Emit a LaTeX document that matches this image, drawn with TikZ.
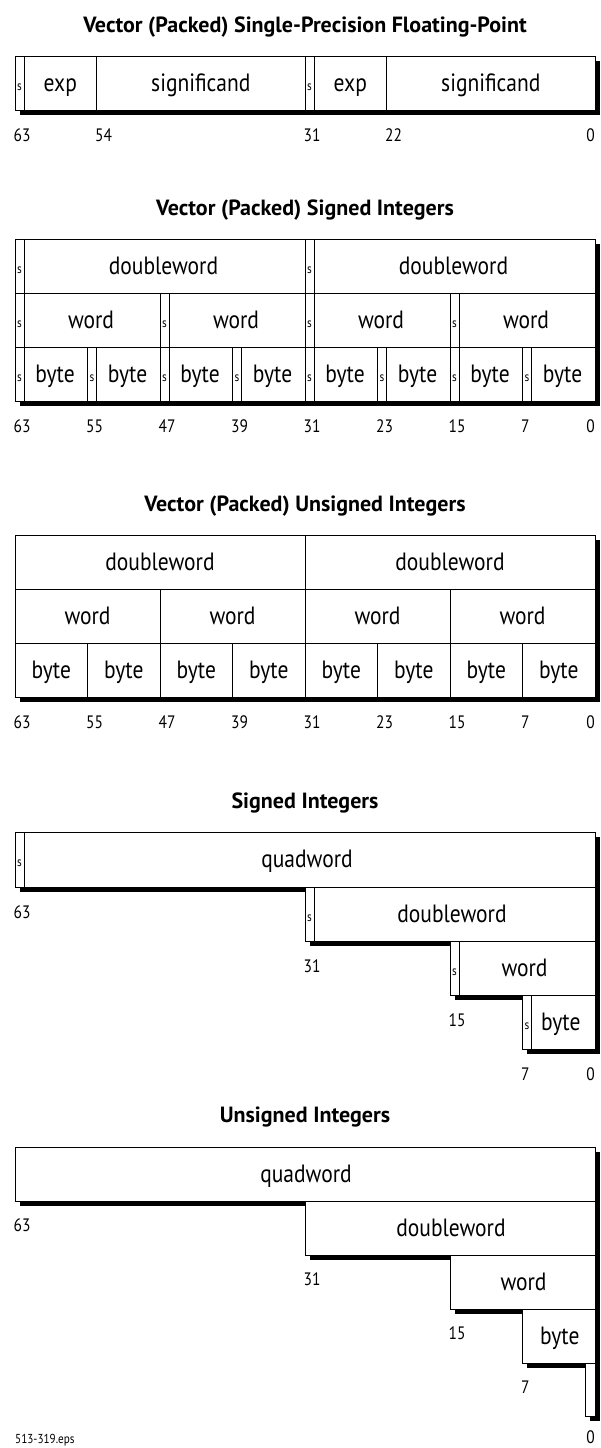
\documentclass[tikz,border=0pt]{standalone}
\usepackage{fontspec}
\setmainfont{PT Sans}[FakeStretch=0.86]
\newfontfamily\ttlfont{PT Sans}[FakeStretch=1.0]
\tikzset{
  cell/.style={draw=black, line width=0.9pt, fill=white},
  shadowc/.style={fill=black},
  ctext/.style={font=\fontsize{25}{30}\selectfont, inner sep=0pt, anchor=base},
  stext/.style={font=\fontsize{13}{15}\selectfont, inner sep=0pt, anchor=base},
  num/.style={font=\fontsize{18}{21}\selectfont, inner sep=0pt},
  ttl/.style={font=\ttlfont\bfseries\fontsize{22}{26}\selectfont, inner sep=0pt, anchor=base},
  eps/.style={font=\fontsize{13}{15}\selectfont, inner sep=0pt, anchor=base west}
}
\newcommand\shadowbx[4]{\fill[shadowc] ({#1+4.5},{#2+4.5}) rectangle ({#3+4.5},{#4+4.5});}
\begin{document}
\begin{tikzpicture}[x=1pt,y=-1pt]
\useasboundingbox (0,0) rectangle (600,1448);

% ---------- Section 1: packed single precision ----------
\node[ttl] (t1) at (305,32) {Vector (Packed) Single-Precision Floating-Point};
\shadowbx{15}{56}{595}{110}
\foreach \a [count=\i] in {15,305}{
  \draw[cell] (\a,56) rectangle ({\a+9.0625},110);
  \draw[cell] ({\a+9.0625},56) rectangle ({\a+81.5625},110);
  \draw[cell] ({\a+81.5625},56) rectangle ({\a+290},110);
  \node[stext] (fs\i) at ({\a+4.53},90) {s};
  \node[ctext] (fe\i) at ({\a+45.3},91) {exp};
  \node[ctext] (fm\i) at ({\a+185.8},91) {significand};
}
\node[num, anchor=base west] (f63) at (13.5,141) {63};
\node[num, anchor=base west] (f54) at (95,141) {54};
\node[num, anchor=base west] (f31) at (303.5,141) {31};
\node[num, anchor=base west] (f22) at (385,141) {22};
\node[num, anchor=base east] (f0) at (595,141) {0};

% ---------- Section 2: packed signed integers ----------
\node[ttl] (t2) at (305,215) {Vector (Packed) Signed Integers};
\shadowbx{15}{239}{595}{401}
\foreach \a [count=\i] in {15,305}{
  \draw[cell] (\a,239) rectangle ({\a+290},293);
  \draw[cell] (\a,239) rectangle ({\a+9.0625},293);
  \node[stext] (sds\i) at ({\a+4.53},273) {s};
  \node[ctext] (sdw\i) at ({\a+148.5},274) {doubleword};
}
\foreach \a [count=\i] in {15,160,305,450}{
  \draw[cell] (\a,293) rectangle ({\a+145},347);
  \draw[cell] (\a,293) rectangle ({\a+9.0625},347);
  \node[stext] (sws\i) at ({\a+4.53},327) {s};
  \node[ctext] (sww\i) at ({\a+76},328) {word};
}
\foreach \a [count=\i] in {15,87.5,160,232.5,305,377.5,450,522.5}{
  \draw[cell] (\a,347) rectangle ({\a+72.5},401);
  \draw[cell] (\a,347) rectangle ({\a+9.0625},401);
  \node[stext] (sbs\i) at ({\a+4.53},381) {s};
  \node[ctext] (sbb\i) at ({\a+40},382) {byte};
}
\foreach \b/\x in {63/15,55/87.5,47/160,39/232.5,31/305,23/377.5,15/450,7/522.5}{
  \node[num, anchor=base west] (sl\b) at ({\x-1.5},432) {\b};
}
\node[num, anchor=base east] (sl0) at (595,432) {0};

% ---------- Section 3: packed unsigned integers ----------
\node[ttl] (t3) at (305,511) {Vector (Packed) Unsigned Integers};
\shadowbx{15}{535}{595}{697}
\foreach \a [count=\i] in {15,305}{
  \draw[cell] (\a,535) rectangle ({\a+290},589);
  \node[ctext] (udw\i) at ({\a+145},570) {doubleword};
}
\foreach \a [count=\i] in {15,160,305,450}{
  \draw[cell] (\a,589) rectangle ({\a+145},643);
  \node[ctext] (uww\i) at ({\a+72.5},624) {word};
}
\foreach \a [count=\i] in {15,87.5,160,232.5,305,377.5,450,522.5}{
  \draw[cell] (\a,643) rectangle ({\a+72.5},697);
  \node[ctext] (ubb\i) at ({\a+36.25},678) {byte};
}
\foreach \b/\x in {63/15,55/87.5,47/160,39/232.5,31/305,23/377.5,15/450,7/522.5}{
  \node[num, anchor=base west] (ul\b) at ({\x-1.5},728) {\b};
}
\node[num, anchor=base east] (ul0) at (595,728) {0};

% ---------- Section 4: signed integers ----------
\node[ttl] (t4) at (305,808) {Signed Integers};
\foreach \a/\t/\b/\w/\nm in {15/832/887/quadword/q, 305/887/941/doubleword/d, 450/941/995/word/w, 522.5/995/1049/byte/b}{
  \shadowbx{\a}{\t}{595}{\b}
  \draw[cell] (\a,\t) rectangle (595,\b);
  \draw[cell] (\a,\t) rectangle ({\a+9.0625},\b);
  \node[stext] (ss\nm) at ({\a+4.53},{\t+34}) {s};
  \node[ctext] (st\nm) at ({(\a+595)/2+2},{\t+35}) {\w};
}
\node[num, anchor=base west] (sn63) at (13.5,918) {63};
\node[num, anchor=base west] (sn31) at (303.5,972) {31};
\node[num, anchor=base west] (sn15) at (448.5,1026) {15};
\node[num, anchor=base west] (sn7) at (521,1080) {7};
\node[num, anchor=base east] (sn0) at (595,1080) {0};

% ---------- Section 5: unsigned integers ----------
\node[ttl] (t5) at (305,1122) {Unsigned Integers};
\foreach \a/\t/\b/\w/\nm in {15/1147/1201/quadword/q, 305/1201/1255/doubleword/d, 450/1255/1309/word/w, 522.5/1309/1363/byte/b}{
  \shadowbx{\a}{\t}{595}{\b}
  \draw[cell] (\a,\t) rectangle (595,\b);
  \node[ctext] (ut\nm) at ({(\a+595)/2+1},{\t+35}) {\w};
}
\shadowbx{585.94}{1363}{595}{1416}
\draw[cell] (585.94,1363) rectangle (595,1416);
\node[num, anchor=base west] (un63) at (13.5,1231) {63};
\node[num, anchor=base west] (un31) at (303.5,1285) {31};
\node[num, anchor=base west] (un15) at (448.5,1339) {15};
\node[num, anchor=base west] (un7) at (521,1393) {7};
\node[num, anchor=base east] (un0) at (595,1443) {0};
\node[eps] (epsname) at (15,1443) {513-319.eps};
\end{tikzpicture}
\end{document}
